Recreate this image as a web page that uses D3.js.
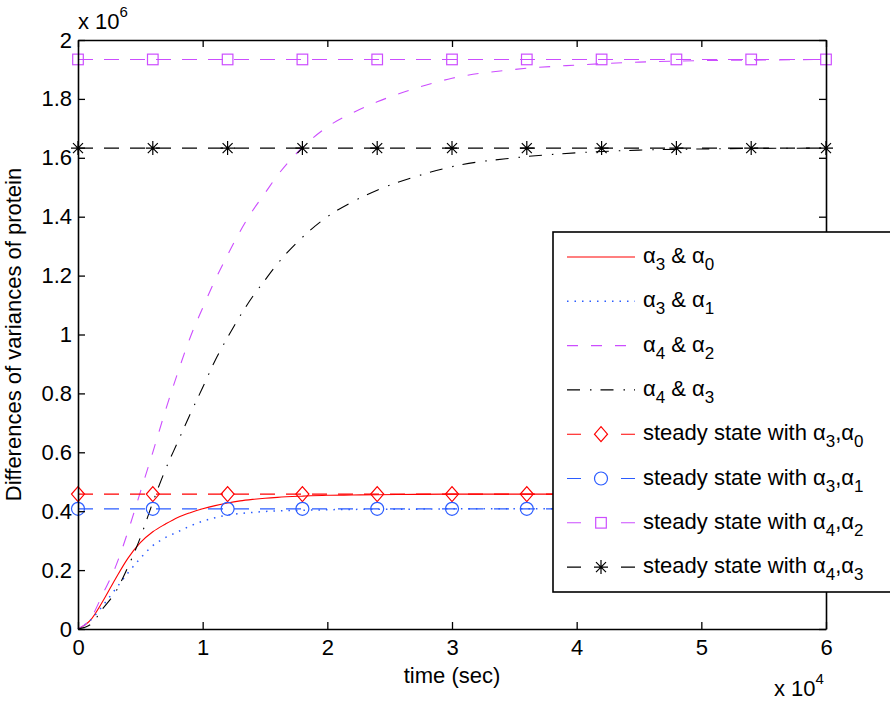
<!DOCTYPE html>
<meta charset="utf-8">
<head>
	<script type="text/javascript" src="https://cdn.jsdelivr.net/npm/d3@7"></script>
	<style>
		body { margin: 0; background: #fff; }
		text { font-family: "Liberation Sans", Arial, Helvetica, sans-serif; }
	</style>
</head>
<body>
	<svg id="chart" width="890" height="702"></svg>
</body>
<script type="text/javascript">
	// time in units of 1e4 sec, variances in units of 1e6
	var timePts = [0, 0.1, 0.2, 0.3, 0.4, 0.5, 0.6, 0.7, 0.8, 0.9, 1.0, 1.1, 1.2, 1.3, 1.4, 1.5, 1.6, 1.8, 2.0, 2.2, 2.4, 2.7, 3.0, 3.5, 4.0, 4.5, 5.0, 5.5, 6.0];
	var a3a0 = [0, 0.03, 0.095, 0.17, 0.24, 0.293, 0.33, 0.356, 0.379, 0.395, 0.408, 0.419, 0.428, 0.435, 0.44, 0.444, 0.447, 0.451, 0.454, 0.455, 0.456, 0.457, 0.458, 0.458, 0.458, 0.458, 0.458, 0.458, 0.458];
	var a3a1 = [0, 0.03, 0.08, 0.135, 0.19, 0.24, 0.283, 0.31, 0.33, 0.35, 0.366, 0.378, 0.387, 0.392, 0.396, 0.399, 0.401, 0.403, 0.405, 0.406, 0.407, 0.407, 0.408, 0.408, 0.408, 0.408, 0.408, 0.408, 0.408];
	var a4a2 = [0, 0.035, 0.12, 0.21, 0.33, 0.465, 0.6, 0.74, 0.87, 0.99, 1.09, 1.185, 1.27, 1.35, 1.42, 1.48, 1.54, 1.635, 1.705, 1.752, 1.79, 1.835, 1.87, 1.90, 1.915, 1.925, 1.93, 1.932, 1.934];
	var a4a3 = [0, 0.015, 0.07, 0.125, 0.21, 0.31, 0.43, 0.54, 0.635, 0.73, 0.82, 0.912, 0.99, 1.063, 1.128, 1.185, 1.24, 1.33, 1.40, 1.45, 1.49, 1.535, 1.57, 1.60, 1.617, 1.626, 1.63, 1.632, 1.633];

	// steady state levels and where their markers sit
	var steadyVals = [0.458, 0.408, 1.934, 1.633];
	var markerTimes = [0, 0.6, 1.2, 1.8, 2.4, 3.0, 3.6, 4.2, 4.8, 5.4, 6.0];

	var xTicks = [0, 1, 2, 3, 4, 5, 6];
	var yTicks = [0, 0.2, 0.4, 0.6, 0.8, 1, 1.2, 1.4, 1.6, 1.8, 2];

	// subscript pairs for the legend labels
	var curveSubs = [["3", "0"], ["3", "1"], ["4", "2"], ["4", "3"]];
	var steadySubs = [["3", "0"], ["3", "1"], ["4", "2"], ["4", "3"]];

	var colors = ["#ff0000", "#2b5cff", "#cc4dff", "#000000"];
	var curveDash = [null, "1.5,6", "11,13", "13,10,1.5,9"];
	var markerShapes = ["diamond", "circle", "square", "star"];

	var svg = d3.select("#chart");
	var pLeft = 78, pRight = 826, pTop = 40, pBottom = 629;

	var x = d3.scaleLinear().domain([0, 6]).range([pLeft, pRight]);
	var y = d3.scaleLinear().domain([0, 2]).range([pBottom, pTop]);

	var fmt = function(d){ return String(Math.round(d * 10) / 10); };

	// curves
	var curves = [a3a0, a3a1, a4a2, a4a3];
	var line = d3.line()
		.x(function(d){ return x(d[0]); })
		.y(function(d){ return y(d[1]); })
		.curve(d3.curveMonotoneX);

	curves.forEach(function(vals, i){
		var pts = timePts.map(function(t, j){ return [t, vals[j]]; });
		svg.append("path")
			.attr("d", line(pts))
			.attr("fill", "none")
			.attr("stroke", colors[i])
			.attr("stroke-width", i == 1 ? 1.5 : 1.1)
			.attr("stroke-dasharray", curveDash[i]);
	});

	function drawMarker(g, shape, color){
		if(shape == "diamond")
			g.append("path").attr("d", "M0,-7.5L6.5,0L0,7.5L-6.5,0Z");
		else if(shape == "circle")
			g.append("circle").attr("r", 6.5);
		else if(shape == "square")
			g.append("rect").attr("x", -5.3).attr("y", -5.3).attr("width", 10.6).attr("height", 10.6);
		else
			g.append("path").attr("d", "M-7,0H7M0,-7V7M-5,-5L5,5M-5,5L5,-5");
		g.selectAll("*").attr("fill", "none").attr("stroke", color).attr("stroke-width", 1.2);
	}

	// steady state lines with markers
	steadyVals.forEach(function(v, i){
		svg.append("line")
			.attr("x1", x(0)).attr("x2", x(6))
			.attr("y1", y(v)).attr("y2", y(v))
			.attr("stroke", colors[i])
			.attr("stroke-width", 1.1)
			.attr("stroke-dasharray", "15,11");
		markerTimes.forEach(function(t){
			var g = svg.append("g").attr("transform", "translate(" + x(t) + "," + y(v) + ")");
			drawMarker(g, markerShapes[i], colors[i]);
		});
	});

	// axes, ticks pointing inward on all four sides
	function styleAxis(g){
		g.attr("font-size", 22).attr("font-family", "Liberation Sans, Arial, sans-serif");
		g.select(".domain").attr("stroke", "#000").attr("stroke-width", 1.6);
		g.selectAll(".tick line").attr("stroke", "#000").attr("stroke-width", 1.3);
		g.selectAll(".tick text").attr("fill", "#000");
	}

	svg.append("g").attr("transform", "translate(0," + pBottom + ")")
		.call(d3.axisBottom(x).tickValues(xTicks).tickFormat(fmt).tickSize(-7).tickSizeOuter(0).tickPadding(10))
		.call(styleAxis);
	svg.append("g").attr("transform", "translate(0," + pTop + ")")
		.call(d3.axisTop(x).tickValues(xTicks).tickFormat("").tickSize(-7).tickSizeOuter(0))
		.call(styleAxis);
	svg.append("g").attr("transform", "translate(" + pLeft + ",0)")
		.call(d3.axisLeft(y).tickValues(yTicks).tickFormat(fmt).tickSize(-7).tickSizeOuter(0).tickPadding(6))
		.call(styleAxis);
	svg.append("g").attr("transform", "translate(" + pRight + ",0)")
		.call(d3.axisRight(y).tickValues(yTicks).tickFormat("").tickSize(-7).tickSizeOuter(0))
		.call(styleAxis);

	// exponent labels
	var e6 = svg.append("text").attr("x", 78).attr("y", 29).attr("font-size", 22);
	e6.append("tspan").text("x 10");
	e6.append("tspan").attr("font-size", 15).attr("dy", -12).text("6");

	var e4 = svg.append("text").attr("x", 774).attr("y", 696).attr("font-size", 22);
	e4.append("tspan").text("x 10");
	e4.append("tspan").attr("font-size", 15).attr("dy", -12).text("4");

	svg.append("text")
		.attr("x", (pLeft + pRight) / 2).attr("y", 683)
		.attr("text-anchor", "middle").attr("font-size", 22)
		.text("time (sec)");

	svg.append("text")
		.attr("transform", "translate(21," + ((pTop + pBottom) / 2) + ") rotate(-90)")
		.attr("text-anchor", "middle").attr("font-size", 22)
		.text("Differences of variances of protein");

	// legend
	var legend = svg.append("g");
	legend.append("rect")
		.attr("x", 553).attr("y", 232)
		.attr("width", 345).attr("height", 360)
		.attr("fill", "#fff").attr("stroke", "#000").attr("stroke-width", 1.6);

	function subLabel(txt, prefix, subs, sep){
		txt.append("tspan").text(prefix + "\u03b1");
		txt.append("tspan").attr("font-size", 17).attr("dy", 7).text(subs[0]);
		txt.append("tspan").attr("dy", -7).text(sep + "\u03b1");
		txt.append("tspan").attr("font-size", 17).attr("dy", 7).text(subs[1]);
	}

	var rowY = function(i){ return 257 + i * 44.3; };

	curveSubs.forEach(function(s, i){
		var yy = rowY(i);
		legend.append("line")
			.attr("x1", 567).attr("x2", 635).attr("y1", yy).attr("y2", yy)
			.attr("stroke", colors[i]).attr("stroke-width", i == 1 ? 1.5 : 1.1)
			.attr("stroke-dasharray", curveDash[i]);
		var t = legend.append("text").attr("x", 643).attr("y", yy + 6).attr("font-size", 22);
		subLabel(t, "", s, " & ");
	});

	steadySubs.forEach(function(s, i){
		var yy = rowY(i + 4);
		legend.append("line")
			.attr("x1", 567).attr("x2", 635).attr("y1", yy).attr("y2", yy)
			.attr("stroke", colors[i]).attr("stroke-width", 1.1)
			.attr("stroke-dasharray", "14,40,14");
		var g = legend.append("g").attr("transform", "translate(601," + yy + ")");
		drawMarker(g, markerShapes[i], colors[i]);
		var t = legend.append("text").attr("x", 643).attr("y", yy + 6).attr("font-size", 22);
		subLabel(t, "steady state with ", s, ",");
	});
</script>
